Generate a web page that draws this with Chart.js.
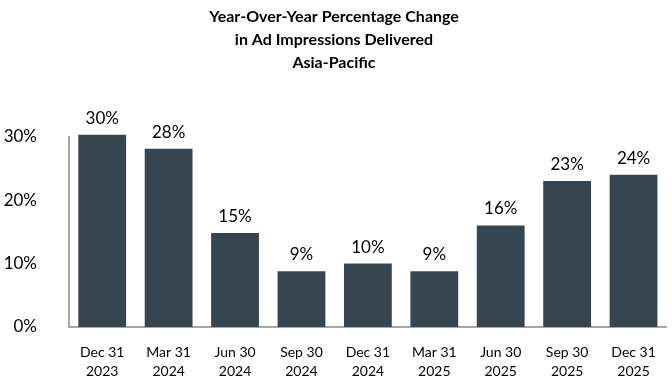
<!DOCTYPE html>
<html>
<head>
<meta charset="utf-8">
<script src="https://cdn.jsdelivr.net/npm/chart.js@4"></script>
<style>
  html, body { margin: 0; padding: 0; background: #ffffff; }
  #wrap { width: 672px; height: 384px; }
</style>
</head>
<body>
<div id="wrap"><canvas id="chart"></canvas></div>
<script>
// quarters and yoy change (%)
const quarters = [
  ['Dec 31', '2023'], ['Mar 31', '2024'], ['Jun 30', '2024'],
  ['Sep 30', '2024'], ['Dec 31', '2024'], ['Mar 31', '2025'],
  ['Jun 30', '2025'], ['Sep 30', '2025'], ['Dec 31', '2025']
];
const yoyChange = [30.3, 28.1, 14.8, 8.8, 10.0, 8.8, 16.0, 23.0, 24.0];
const yTicks = [0, 10, 20, 30];

const fontFamily = 'Lato, "Open Sans", sans-serif';

// draws the % value above every bar
const barLabels = {
  id: 'barLabels',
  afterDatasetsDraw(chart) {
    const ctx = chart.ctx;
    const meta = chart.getDatasetMeta(0);
    ctx.save();
    ctx.font = '17px ' + fontFamily;
    ctx.fillStyle = '#000000';
    ctx.textAlign = 'center';
    ctx.textBaseline = 'bottom';
    meta.data.forEach((bar, i) => {
      ctx.fillText(Math.round(yoyChange[i]) + '%', bar.x, bar.y - 8);
    });
    ctx.restore();
  }
};

new Chart(document.getElementById('chart'), {
  type: 'bar',
  data: {
    labels: quarters,
    datasets: [{
      data: yoyChange,
      backgroundColor: '#364651',
      barPercentage: 0.72,
      categoryPercentage: 1,
      clip: false
    }]
  },
  options: {
    responsive: true,
    maintainAspectRatio: false,
    animation: false,
    layout: { padding: { left: 0, right: 4, top: 0, bottom: 0 } },
    scales: {
      x: {
        afterFit: axis => { axis.height = 57; },
        grid: { display: false, drawTicks: false },
        border: { display: true, color: '#a6a6a6', width: 2 },
        ticks: {
          color: '#000000',
          font: { family: fontFamily, size: 14, lineHeight: 1.35 },
          padding: 16,
          maxRotation: 0
        }
      },
      y: {
        min: 0,
        max: 30,
        afterFit: axis => { axis.width = 69; },
        afterBuildTicks: axis => { axis.ticks = yTicks.map(v => ({ value: v })); },
        grid: { display: false, drawTicks: false },
        border: { display: true, color: '#a6a6a6', width: 2 },
        ticks: {
          color: '#000000',
          font: { family: fontFamily, size: 17 },
          padding: 32,
          callback: value => value + '%'
        }
      }
    },
    plugins: {
      legend: { display: false },
      tooltip: { enabled: false },
      title: {
        display: true,
        text: ['Year-Over-Year Percentage Change', 'in Ad Impressions Delivered', 'Asia-Pacific'],
        color: '#000000',
        font: { family: fontFamily, size: 16, weight: 'bold', lineHeight: 1.45 },
        padding: { top: 5, bottom: 62 }
      }
    }
  },
  plugins: [barLabels]
});
</script>
</body>
</html>
